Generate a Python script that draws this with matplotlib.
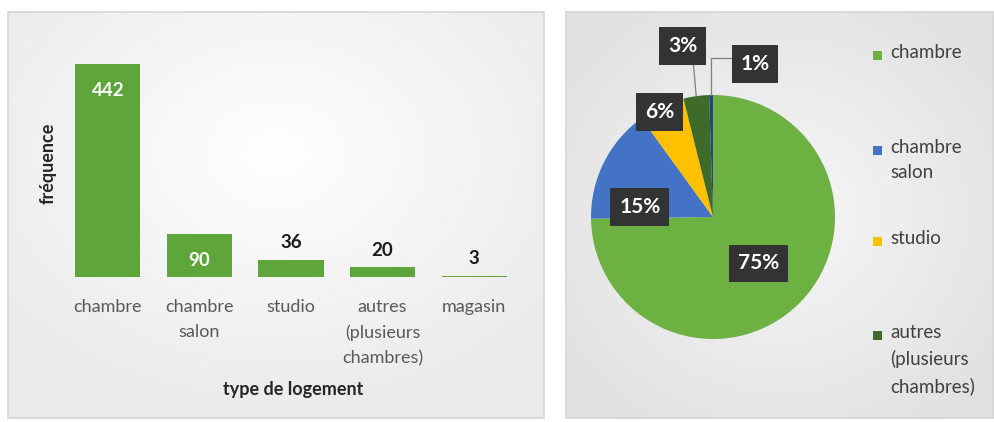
import numpy as np
import matplotlib
matplotlib.use('Agg')
import matplotlib.pyplot as plt
from matplotlib.patches import Rectangle

plt.rcParams['font.family'] = ['Lato', 'DejaVu Sans']

# ── Données ─────────────────────────────────────────────────────────────
categories = ['chambre', 'chambre\nsalon', 'studio',
              'autres\n(plusieurs\nchambres)', 'magasin']
frequences = [442, 90, 36, 20, 3]

pie_labels = ['chambre', 'chambre\nsalon', 'studio',
              'autres\n(plusieurs\nchambres)', 'magasin']
pie_colors = ['#6DB143', '#4473C5', '#FFC000', '#3E6B2A', '#264478']
legend_count = 4          # magasin est coupé dans la légende d'origine

BAR_COLOR = '#5EA63A'
TICK_FG = '#595959'
LEG_FG = '#404040'
BOX_BG = '#333333'

W, H = 995, 422


def fx(px):  return px / W
def fy(py):  return 1 - py / H


fig = plt.figure(figsize=(W / 100, H / 100), dpi=100, facecolor='white')


def panel_bg(x0, y0, x1, y1, inner, outer, cy=0.5):
    ax = fig.add_axes([fx(x0), fy(y1), fx(x1 - x0), (y1 - y0) / H], zorder=-5)
    yy, xx = np.mgrid[0:1:200j, 0:1:300j]
    d = np.sqrt(((xx - 0.5) / 0.65) ** 2 + ((yy - cy) / 0.65) ** 2)
    d = np.clip(d, 0, 1)[..., None]
    img = np.array(inner)[None, None, :] * (1 - d) + np.array(outer)[None, None, :] * d
    ax.imshow(img, extent=[0, 1, 0, 1], aspect='auto', origin='upper')
    ax.set_xticks([]); ax.set_yticks([])
    for s in ax.spines.values():
        s.set_color('#D6D6D6')
        s.set_linewidth(1.2)
    return ax


panel_bg(8, 12, 544, 418, (1.0, 1.0, 1.0), (0.92, 0.92, 0.92), cy=0.35)
panel_bg(566, 12, 993, 418, (0.97, 0.97, 0.97), (0.88, 0.88, 0.88))

# ── Histogramme ─────────────────────────────────────────────────────────
axb = fig.add_axes([fx(62), fy(277), fx(458), 226.5 / H])
axb.patch.set_alpha(0)
x = np.arange(len(categories))
bars = axb.bar(x, frequences, width=0.71, color=BAR_COLOR)
axb.set_xlim(-0.5, len(categories) - 0.5)
axb.set_ylim(0, 470)
axb.set_xticks(x)
axb.set_xticklabels(categories, fontsize=13, color=TICK_FG, linespacing=1.7)
axb.tick_params(axis='x', length=0, pad=16)
axb.set_yticks([])
for s in axb.spines.values():
    s.set_visible(False)

for b, v in zip(bars, frequences):
    cx = b.get_x() + b.get_width() / 2
    if v > 60:
        axb.annotate(str(v), (cx, v), xytext=(0, -19), textcoords='offset points',
                     ha='center', va='center', color='white',
                     fontsize=13.5, fontweight='bold')
    else:
        axb.annotate(str(v), (cx, v), xytext=(0, 12.5), textcoords='offset points',
                     ha='center', va='center', color='#1A1A1A',
                     fontsize=13.5, fontweight='bold')

fig.text(fx(293), fy(390), 'type de logement', ha='center', va='center',
         fontsize=13, fontweight='bold', color='#262626')
fig.text(fx(48), fy(163), 'fréquence', ha='center', va='center', rotation=90,
         fontsize=13, fontweight='bold', color='#262626')

# ── Camembert ───────────────────────────────────────────────────────────
R = 122.0
CX, CY = 713, 217
axp = fig.add_axes([fx(566), fy(418), fx(294), 406 / H])
axp.patch.set_alpha(0)
wedges, _ = axp.pie(frequences, colors=pie_colors, startangle=90,
                    counterclock=False, radius=1,
                    wedgeprops=dict(linewidth=0))
axp.set_xlim((566 - CX) / R, (860 - CX) / R)
axp.set_ylim((CY - 418) / R, (CY - 12) / R)
axp.axis('off')

total = sum(frequences)
pcts = [f'{round(100 * v / total)}%' for v in frequences]
# position des étiquettes (unités du rayon)
label_pos = [(0.37, -0.38), (-0.60, 0.08), (-0.44, 0.86), (-0.25, 1.40), (0.345, 1.255)]
box = dict(boxstyle='square,pad=0.42', facecolor=BOX_BG, edgecolor='none')

for i, (w, p, pos) in enumerate(zip(wedges, pcts, label_pos)):
    mid = np.deg2rad((w.theta1 + w.theta2) / 2)
    edge = (np.cos(mid), np.sin(mid))
    kw = dict(ha='center', va='center', color='white', fontsize=15,
              fontweight='bold', bbox=box)
    if i == 3:
        axp.annotate(p, edge, xytext=pos, **kw,
                     arrowprops=dict(arrowstyle='-', color='#7F7F7F', lw=0.9,
                                     relpos=(0.85, 0.0), shrinkA=0, shrinkB=0))
    elif i == 4:
        axp.annotate(p, edge, xytext=pos, **kw,
                     arrowprops=dict(arrowstyle='-', color='#7F7F7F', lw=0.9,
                                     relpos=(0.0, 0.8), shrinkA=0, shrinkB=0,
                                     connectionstyle='angle,angleA=0,angleB=90,rad=0'))
    else:
        axp.text(pos[0], pos[1], p, **kw)

# ── Légende ─────────────────────────────────────────────────────────────
legend_rows = [55, 150, 241, 335]
for lab, col, yc in zip(pie_labels[:legend_count], pie_colors[:legend_count], legend_rows):
    fig.patches.append(Rectangle((fx(873), fy(yc + 5)), fx(9), 9 / H,
                                 transform=fig.transFigure, facecolor=col,
                                 edgecolor='none'))
    fig.text(fx(890), fy(yc - 11), lab, ha='left', va='top', fontsize=13.5,
             color=LEG_FG, linespacing=1.6)

fig.savefig('out.png', dpi=100, facecolor='white')
